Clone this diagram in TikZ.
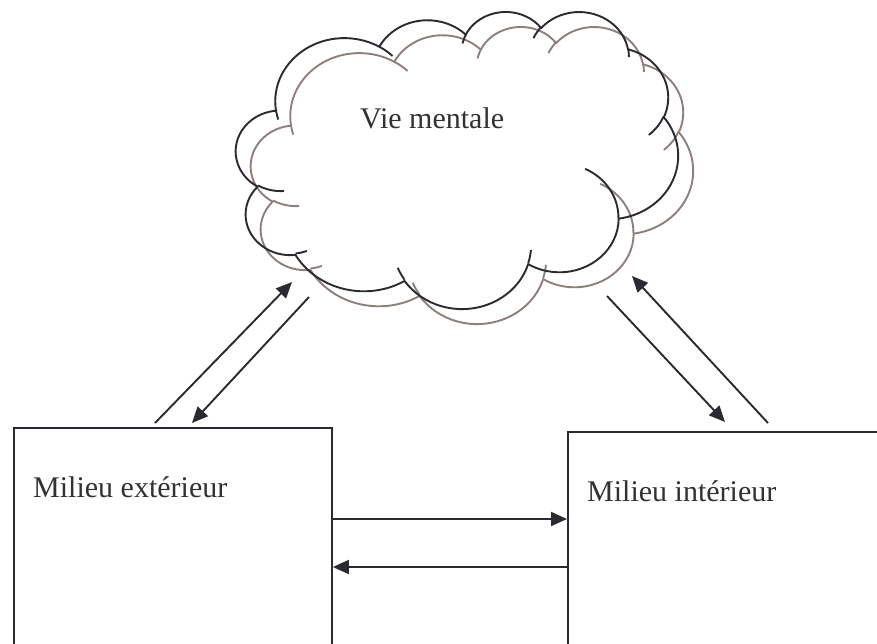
\documentclass[tikz,border=0pt]{standalone}
\usepackage{fontspec}
\setmainfont{Liberation Serif}
\usetikzlibrary{arrows.meta}
\definecolor{inkdark}{RGB}{42,42,48}
\definecolor{cloudgray}{RGB}{140,128,125}
\definecolor{textdark}{RGB}{50,50,50}
% parametric start/end angles of an elliptic arc given by visual angles
\newcommand\cqarc[5]{%
  \pgfmathsetmacro\cqtmpS{atan2((#2)*sin(#4),(#3)*cos(#4))}%
  \pgfmathsetmacro\cqtmpE{\cqtmpS+Mod(atan2((#2)*sin((#4)+(#5)),(#3)*cos((#4)+(#5)))-\cqtmpS,360)}%
  \expandafter\let\csname cq#1s\endcsname\cqtmpS
  \expandafter\let\csname cq#1e\endcsname\cqtmpE}
% outline arcs
\cqarc{A}{67.53}{91.90}{-190.4875}{123.7805}
\cqarc{B}{53.33}{72.67}{-144.1024}{89.9452}
\cqarc{C}{43.65}{59.45}{-145.8079}{99.7230}
\cqarc{D}{48.57}{65.95}{-130.9861}{117.2417}
\cqarc{E}{53.33}{72.73}{-78.7089}{109.0269}
\cqarc{F}{67.75}{92.20}{-46.2673}{130.2690}
\cqarc{G}{57.85}{78.67}{0.6250}{114.0333}
\cqarc{H}{67.52}{92.15}{22.4516}{115.1726}
\cqarc{I}{77.20}{105.43}{66.2426}{75.7110}
\cqarc{J}{43.60}{59.18}{-274.9421}{146.7356}
\cqarc{K}{43.45}{59.45}{-246.8285}{152.5189}
% inner arcs
\cqarc{L}{43.45}{59.45}{86.7420}{26.4295}
\cqarc{M}{43.60}{59.18}{73.6105}{11.4475}
\cqarc{N}{67.52}{92.15}{137.6242}{14.0811}
\cqarc{O}{67.52}{92.15}{6.4533}{15.9984}
\cqarc{P}{57.85}{78.67}{-70.2924}{70.9174}
\cqarc{Q}{53.33}{72.73}{30.3180}{27.7515}
\cqarc{R}{48.57}{65.95}{-13.7443}{14.8538}
\cqarc{S}{48.57}{65.95}{-149.1815}{18.1954}
\cqarc{T}{43.65}{59.45}{-163.4943}{17.6864}
\cqarc{U}{67.53}{91.90}{-66.7070}{12.3194}
\cqarc{V}{67.53}{91.90}{157.6544}{11.8582}
\begin{document}
\begin{tikzpicture}[x=1pt,y=-1pt,
  arr/.style={draw=inkdark,line width=1.9pt,-{Triangle[length=16pt,width=14pt]}},
  box/.style={draw=inkdark,line width=1.9pt,rectangle,inner sep=0pt},
  lbl/.style={text=textdark,inner sep=0pt,font=\fontsize{30}{36}\selectfont},
  cloudline/.style={line width=1.9pt,line join=round}]
\useasboundingbox (0,0) rectangle (877,643);
\clip (0,0) rectangle (877,643);
\fill[white] (0,0) rectangle (877,643);
% clouds (gray copy, then dark)
\foreach \sx/\sy/\col in {251/-26/cloudgray,236/-11/inkdark}{
  \begin{scope}[shift={(\sx pt,\sy pt)},x=1.0231pt,y=-0.6875pt]
    \draw[cloudline,draw=\col] (39.00,143.70)
      arc[start angle=\cqAs,end angle=\cqAe,x radius=67.53,y radius=91.90]
      arc[start angle=\cqBs,end angle=\cqBe,x radius=53.33,y radius=72.67]
      arc[start angle=\cqCs,end angle=\cqCe,x radius=43.65,y radius=59.45]
      arc[start angle=\cqDs,end angle=\cqDe,x radius=48.57,y radius=65.95]
      arc[start angle=\cqEs,end angle=\cqEe,x radius=53.33,y radius=72.73]
      arc[start angle=\cqFs,end angle=\cqFe,x radius=67.75,y radius=92.20]
      arc[start angle=\cqGs,end angle=\cqGe,x radius=57.85,y radius=78.67]
      arc[start angle=\cqHs,end angle=\cqHe,x radius=67.52,y radius=92.15]
      arc[start angle=\cqIs,end angle=\cqIe,x radius=77.20,y radius=105.43]
      arc[start angle=\cqJs,end angle=\cqJe,x radius=43.60,y radius=59.18]
      arc[start angle=\cqKs,end angle=\cqKe,x radius=43.45,y radius=59.45]
      -- cycle;
    \draw[cloudline,draw=\col]
      (46.93,261.77) arc[start angle=\cqLs,end angle=\cqLe,x radius=43.45,y radius=59.45]
      (69.28,348.99) arc[start angle=\cqMs,end angle=\cqMe,x radius=43.60,y radius=59.18]
      (164.78,390.90) arc[start angle=\cqNs,end angle=\cqNe,x radius=67.52,y radius=92.15]
      (288.27,347.51) arc[start angle=\cqOs,end angle=\cqOe,x radius=67.52,y radius=92.15]
      (341.29,229.54) arc[start angle=\cqPs,end angle=\cqPe,x radius=57.85,y radius=78.67]
      (417.98,153.54) arc[start angle=\cqQs,end angle=\cqQe,x radius=53.33,y radius=72.73]
      (383.24,54.26) arc[start angle=\cqRs,end angle=\cqRe,x radius=48.57,y radius=65.95]
      (290.78,39.52) arc[start angle=\cqSs,end angle=\cqSe,x radius=48.57,y radius=65.95]
      (221.41,47.20) arc[start angle=\cqTs,end angle=\cqTe,x radius=43.65,y radius=59.45]
      (140.00,51.92) arc[start angle=\cqUs,end angle=\cqUe,x radius=67.53,y radius=91.90]
      (41.27,157.89) arc[start angle=\cqVs,end angle=\cqVe,x radius=67.53,y radius=91.90];
  \end{scope}
}
\node[lbl,anchor=base west] (vie) at (360,128) {Vie mentale};
% boxes
\node[box,minimum width=318pt,minimum height=250pt,anchor=north west] (ext) at (13,427) {};
\node[box,minimum width=340pt,minimum height=250pt,anchor=north west] (int) at (567,431) {};
\node[lbl,anchor=base west] (extlbl) at (33,497) {Milieu extérieur};
\node[lbl,anchor=base west] (intlbl) at (587,501) {Milieu intérieur};
% horizontal arrows
\coordinate (h1) at (0,519);
\coordinate (h2) at (0,567);
\draw[arr] (ext.east |- h1) -- (int.west |- h1);
\draw[arr] (int.west |- h2) -- (ext.east |- h2);
% diagonal arrows
\coordinate (la) at (155,423); \coordinate (lb) at (292,282);
\coordinate (lc) at (309,297); \coordinate (ld) at (192,423);
\coordinate (ra) at (607,296); \coordinate (rb) at (725,422);
\coordinate (rc) at (768,423); \coordinate (rd) at (632,276);
\draw[arr] (la) -- (lb);
\draw[arr] (lc) -- (ld);
\draw[arr] (ra) -- (rb);
\draw[arr] (rc) -- (rd);
\end{tikzpicture}
\end{document}
